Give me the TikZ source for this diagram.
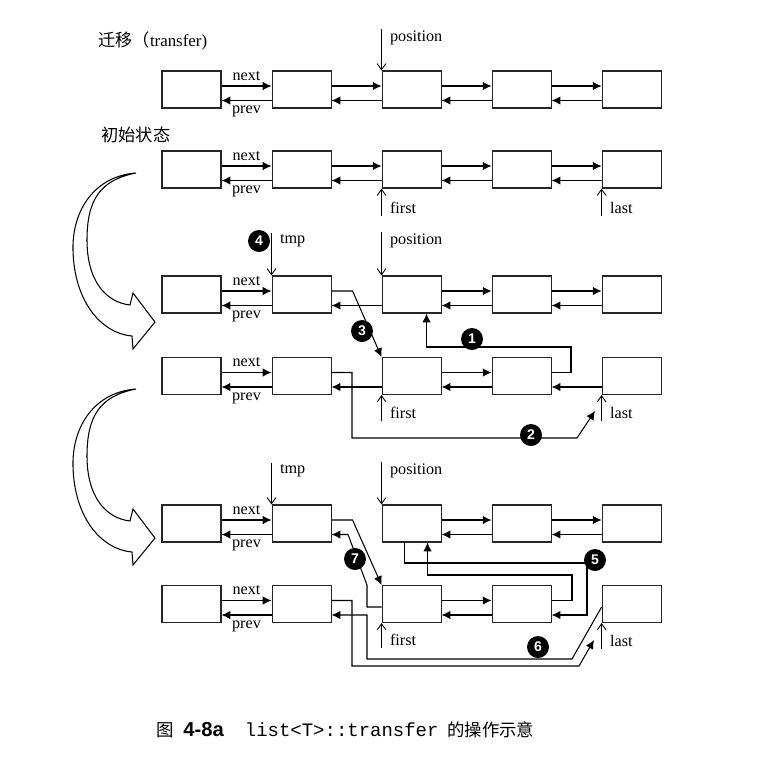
\documentclass[tikz,border=0pt]{standalone}
\usepackage{fontspec}
\setmainfont{Liberation Serif}
\setsansfont{Liberation Sans}
\setmonofont{Liberation Mono}
\newfontfamily\cjk{Noto Sans CJK SC}
\usetikzlibrary{arrows.meta, positioning}

\begin{document}
\begin{tikzpicture}[
        x=0.02cm, y=-0.02cm,
        node distance=1cm,
        font=\fontsize{9.2}{11}\selectfont,
        cell/.style={
            rectangle,
            draw=black!85,
            line width=0.6pt,
            minimum width=1.18cm,
            minimum height=0.74cm,
            inner sep=0pt
        },
        link/.style={-{Latex[length=5pt,width=4.8pt]}, line width=0.6pt},
        ptr/.style={-{Straight Barb[length=3.5pt,width=5pt]}, line width=0.5pt},
        lbl/.style={anchor=west, inner sep=1pt},
        badge/.style={
            circle,
            fill=black,
            text=white,
            minimum size=0.44cm,
            inner sep=0pt,
            font=\sffamily\bfseries\fontsize{8}{8}\selectfont
        },
        cjklbl/.style={anchor=west, inner sep=0pt, font=\cjk\fontsize{9.8}{11}\selectfont},
        bigarrow/.style={draw, line width=0.6pt, fill=white}
    ]
    \useasboundingbox (0,0) rectangle (782,779);

    % big curved arrows on the left
    \foreach \dy in {0,216} {
        \draw [bigarrow, shift={(0,\dy)}] (136,173)
            .. controls (95,176) and (72,210) .. (73,250)
            .. controls (74,300) and (100,333) .. (132,336)
            -- (133,349) -- (155,322) -- (133,293) -- (130,305)
            .. controls (105,302) and (87,280) .. (87,240)
            .. controls (87,200) and (100,180) .. (136,173) -- cycle;
    }

    % rows of list nodes
    \node (T1) [cell] at (191.5,89.5) {};
    \node (T2) [cell, right=of T1] {};
    \node (T3) [cell, right=of T2] {};
    \node (T4) [cell, right=of T3] {};
    \node (T5) [cell, right=of T4] {};

    \node (I1) [cell] at (191.5,169.5) {};
    \node (I2) [cell, right=of I1] {};
    \node (I3) [cell, right=of I2] {};
    \node (I4) [cell, right=of I3] {};
    \node (I5) [cell, right=of I4] {};

    \node (A1) [cell] at (191.5,294.5) {};
    \node (A2) [cell, right=of A1] {};
    \node (A3) [cell, right=of A2] {};
    \node (A4) [cell, right=of A3] {};
    \node (A5) [cell, right=of A4] {};

    \node (B1) [cell] at (191.5,376) {};
    \node (B2) [cell, right=of B1] {};
    \node (B3) [cell, right=of B2] {};
    \node (B4) [cell, right=of B3] {};
    \node (B5) [cell, right=of B4] {};

    \node (C1) [cell] at (191.5,523.5) {};
    \node (C2) [cell, right=of C1] {};
    \node (C3) [cell, right=of C2] {};
    \node (C4) [cell, right=of C3] {};
    \node (C5) [cell, right=of C4] {};

    \node (D1) [cell] at (191.5,604) {};
    \node (D2) [cell, right=of D1] {};
    \node (D3) [cell, right=of D2] {};
    \node (D4) [cell, right=of D3] {};
    \node (D5) [cell, right=of D4] {};

    % titles
    \node (title) [cjklbl] at (98,41) {迁移（{\rmfamily\fontsize{9.6}{11}\selectfont transfer)}};
    \node (start) [cjklbl] at (101,135) {初始状态};

    % next / prev links
    \foreach \r in {T,I,A,B,C,D} {
        \draw [link] ([yshift=0.7mm]\r1.east) -- node[above=-0.5pt] {next} ([yshift=0.7mm]\r2.west);
        \draw [link] ([yshift=-2.2mm]\r2.west) -- node[below=-0.5pt] {prev} ([yshift=-2.2mm]\r1.east);
    }
    \foreach \a/\b in {T2/T3, T3/T4, T4/T5, I2/I3, I3/I4, I4/I5, A3/A4, A4/A5,
                       B3/B4, C3/C4, C4/C5, D3/D4} {
        \draw [link] ([yshift=0.7mm]\a.east) -- ([yshift=0.7mm]\b.west);
        \draw [link] ([yshift=-2.2mm]\b.west) -- ([yshift=-2.2mm]\a.east);
    }
    \foreach \a/\b in {A2/A3, B2/B3, B4/B5} {
        \draw [link] ([yshift=-2.2mm]\b.west) -- ([yshift=-2.2mm]\a.east);
    }

    % iterators
    \node (Tpos) [lbl] at (388,38) {position};
    \draw [ptr] (T3.north west |- Tpos.north) -- (T3.north west);

    \node (Ifirst) [lbl] at (388,208) {first};
    \node (Ilast)  [lbl] at (608,208) {last};
    \draw [ptr] (I3.south west |- Ifirst.south) -- (I3.south west);
    \draw [ptr] (I5.south west |- Ilast.south) -- (I5.south west);

    \node (Atmp) [lbl] at (278,241) {tmp};
    \node (Apos) [lbl] at (388,241) {position};
    \draw [ptr] (A2.north west |- Atmp.north) -- (A2.north west);
    \draw [ptr] (A3.north west |- Apos.north) -- (A3.north west);

    \node (Bfirst) [lbl] at (388,413) {first};
    \node (Blast)  [lbl] at (608,413) {last};
    \draw [ptr] (B3.south west |- Bfirst.south) -- (B3.south west);
    \draw [ptr] (B5.south west |- Blast.south) -- (B5.south west);

    \node (Ctmp) [lbl] at (278,471) {tmp};
    \node (Cpos) [lbl] at (388,471) {position};
    \draw [ptr] (C2.north west |- Ctmp.north) -- (C2.north west);
    \draw [ptr] (C3.north west |- Cpos.north) -- (C3.north west);

    \node (Dfirst) [lbl] at (388,640) {first};
    \node (Dlast)  [lbl] at (608,641) {last};
    \draw [ptr] (D3.south west |- Dfirst.south) -- (D3.south west);
    \draw [ptr] (D5.south west |- Dlast.south) -- (D5.south west);

    \coordinate (Bend) at (595,411);
    \coordinate (Dend) at (594,640);

    % relinking, first stage
    \draw [link] ([yshift=0.7mm]B4.east) -| (571,347) -| ([xshift=9mm]A3.south west);
    \draw [link] ([yshift=0.7mm]B2.east) -| (352,438) -- (577,438) -- (Bend);
    \draw [link] ([yshift=0.7mm]A2.east) -- ++(21,0) -- (B3.north west);

    % relinking, second stage
    \draw [link] ([yshift=0.7mm]D4.east) -| (572,575) -| ([xshift=9.2mm]C3.south west);
    \draw [link] ([xshift=4.6mm]C3.south west) |- (587,563) |- ([yshift=-2.2mm]D4.east);
    \draw [link] ([yshift=-0.6mm]D5.west) -- (572,659) -| (367,615) -- ([yshift=-2.2mm]D2.east);
    \draw [link] ([yshift=0.7mm]D2.east) -| (352,666) -- (579,666) -- (Dend);
    \draw [link] ([yshift=-0.6mm]D3.west) -- (367,607) -- (367,585) -- (348,534.5) -- ([yshift=-2.2mm]C2.east);
    \draw [link] ([yshift=0.7mm]C2.east) -- ++(21,0) -- (D3.north west);

    % step numbers
    \node (n1) [badge] at (472,339) {1};
    \node (n2) [badge] at (531,435) {2};
    \node (n3) [badge] at (362,331) {3};
    \node (n4) [badge] at (259,241) {4};
    \node (n5) [badge] at (595,560) {5};
    \node (n6) [badge] at (538,647) {6};
    \node (n7) [badge] at (355,559) {7};

    % caption
    \node (cap) [anchor=west, inner sep=0pt] at (156,730) {{\cjk\fontsize{9.9}{12}\selectfont 图}\hspace{5.5pt}{\sffamily\bfseries\fontsize{11.5}{12}\selectfont 4-8a}\hspace{12pt}{\ttfamily\fontsize{10.8}{12}\selectfont list<T>::transfer}\hspace{5pt}{\cjk\fontsize{9.9}{12}\selectfont 的操作示意}};

\end{tikzpicture}
\end{document}
